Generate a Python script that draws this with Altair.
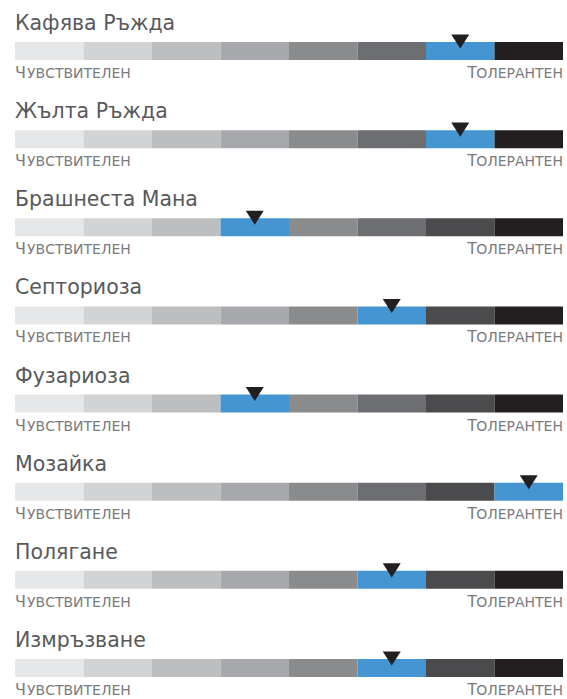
import altair as alt
import pandas as pd

diseases = ["Кафява Ръжда", "Жълта Ръжда", "Брашнеста Мана", "Септориоза",
            "Фузариоза", "Мозайка", "Полягане", "Измръзване"]
ratings = [7, 7, 4, 6, 4, 8, 6, 6]
scale_colors = ["#e6e7e8", "#d1d3d4", "#bcbec0", "#a7a9ac",
                "#8a8b8d", "#6d6e71", "#4b4b4d", "#231f20"]
highlight = "#4495d1"
low_label = "Чувствителен"
high_label = "Толерантен"

seg_rows = []
for r, (name, rating) in enumerate(zip(diseases, ratings)):
    for i, c in enumerate(scale_colors):
        seg_rows.append({"row": r, "x": i, "x2": i + 1,
                         "color": highlight if i + 1 == rating else c})
segs = pd.DataFrame(seg_rows)

rows = pd.DataFrame({
    "row": list(range(len(diseases))),
    "name": diseases,
    "mark": [v - 0.5 for v in ratings],
    "lo0": [low_label[0].upper()] * len(diseases),
    "lo1": [low_label[1:].upper()] * len(diseases),
    "hi0": [high_label[0].upper()] * len(diseases),
    "hi1": [high_label[1:].upper()] * len(diseases),
    "left": [0] * len(diseases),
    "right": [len(scale_colors)] * len(diseases),
})

FONT = "DejaVu Sans"
xs = alt.Scale(domain=[0, 8], nice=False, zero=False)
ys = alt.Scale(domain=[0, 7], nice=False, zero=False, reverse=True)

bars = alt.Chart(segs).mark_rule(strokeWidth=18, strokeCap="butt").encode(
    x=alt.X("x:Q", scale=xs, axis=None),
    x2="x2:Q",
    y=alt.Y("row:Q", scale=ys, axis=None),
    color=alt.Color("color:N", scale=None),
)

base = alt.Chart(rows)

tri = base.mark_point(
    shape="M-1,-0.78L0,0.78L1,-0.78Z", filled=True, size=324,
    color="#231f20", opacity=1, yOffset=-9.5, strokeWidth=0,
).encode(x=alt.X("mark:Q", scale=xs), y=alt.Y("row:Q", scale=ys))

titles = base.mark_text(
    align="left", baseline="alphabetic", dy=-21, fontSize=20.5,
    font=FONT, color="#58595b",
).encode(x=alt.X("left:Q", scale=xs), y=alt.Y("row:Q", scale=ys), text="name:N")

LAB = "#7a7b7e"
lo0 = base.mark_text(
    align="left", baseline="alphabetic", dy=27, fontSize=16,
    font=FONT, color=LAB,
).encode(x=alt.X("left:Q", scale=xs), y=alt.Y("row:Q", scale=ys), text="lo0:N")
lo1 = base.mark_text(
    align="left", baseline="alphabetic", dy=27, dx=12, fontSize=14,
    font=FONT, color=LAB,
).encode(x=alt.X("left:Q", scale=xs), y=alt.Y("row:Q", scale=ys), text="lo1:N")
hi0 = base.mark_text(
    align="right", baseline="alphabetic", dy=27, dx=-86, fontSize=16,
    font=FONT, color=LAB,
).encode(x=alt.X("right:Q", scale=xs), y=alt.Y("row:Q", scale=ys), text="hi0:N")
hi1 = base.mark_text(
    align="right", baseline="alphabetic", dy=27, dx=0, fontSize=14,
    font=FONT, color=LAB,
).encode(x=alt.X("right:Q", scale=xs), y=alt.Y("row:Q", scale=ys), text="hi1:N")

chart = alt.layer(bars, tri, titles, lo0, lo1, hi0, hi1).properties(
    width=548, height=617,
    autosize=alt.AutoSizeParams(type="none"),
    padding={"left": 15, "top": 51, "right": 4, "bottom": 31},
    background="white",
).configure_view(stroke=None)

chart.save("out.html", embed_options={"renderer": "svg", "actions": False})
